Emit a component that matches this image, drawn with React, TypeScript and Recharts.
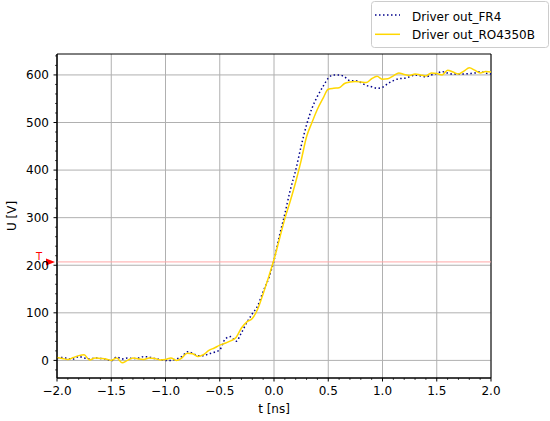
import React from "react";
import {
  LineChart,
  Line,
  XAxis,
  YAxis,
  CartesianGrid,
  ReferenceLine,
  ReferenceDot,
  ReferenceArea,
} from "recharts";

const tValues = [
  -2.0, -1.95, -1.9, -1.85, -1.8, -1.75, -1.7, -1.65, -1.6, -1.55,
  -1.5, -1.45, -1.4, -1.35, -1.3, -1.25, -1.2, -1.15, -1.1, -1.05,
  -1.0, -0.95, -0.9, -0.85, -0.8, -0.75, -0.7, -0.65, -0.6, -0.55,
  -0.5, -0.45, -0.4, -0.35, -0.3, -0.25, -0.2, -0.15, -0.1, -0.05,
  0.0, 0.05, 0.1, 0.15, 0.2, 0.25, 0.3, 0.35, 0.4, 0.45,
  0.5, 0.55, 0.6, 0.65, 0.7, 0.75, 0.8, 0.85, 0.9, 0.95,
  1.0, 1.05, 1.1, 1.15, 1.2, 1.25, 1.3, 1.35, 1.4, 1.45,
  1.5, 1.55, 1.6, 1.65, 1.7, 1.75, 1.8, 1.85, 1.9, 1.95, 2.0,
];

const fr4Values = [
  5, 6, 4, 3, 8, 5, 3, 5, 4, 3,
  -1, 7, 3, 5, 4, 5, 8, 7, 4, 2,
  0, 0, 3, 8, 18, 15, 10, 10, 14, 17,
  22, 45, 50, 40, 58, 80, 98, 115, 145, 172,
  210, 262, 308, 358, 400, 450, 495, 530, 555, 575,
  593, 600, 600, 596, 588, 588, 584, 578, 575, 572,
  574, 582, 588, 592, 593, 596, 600, 598, 596, 600,
  603, 607, 604, 602, 602, 602, 603, 604, 607, 604, 602,
];

const roValues = [
  6, 4, 2, 6, 10, 12, 1, 5, 4, 3,
  0, 5, -5, 0, 5, 3, 2, 5, 4, 1,
  2, 5, 0, 5, 15, 14, 8, 12, 21, 26,
  32, 36, 41, 48, 68, 81, 88, 108, 140, 175,
  212, 255, 298, 335, 375, 420, 470, 500, 528, 550,
  570, 572, 573, 582, 585, 586, 585, 584, 592, 597,
  591, 592, 598, 604, 601, 599, 602, 600, 598, 604,
  603, 600, 610, 606, 602, 608, 615, 610, 604, 607, 606,
];

const seriesNames = ["Driver out_FR4", "Driver out_RO4350B"];
const xMajorTicks = [-2, -1.5, -1, -0.5, 0, 0.5, 1, 1.5, 2];
const yMajorTicks = [0, 100, 200, 300, 400, 500, 600];
const xAllTicks = Array.from({ length: 41 }, (_, i) => Math.round((-2 + i * 0.1) * 10) / 10);
const yAllTicks = Array.from({ length: 34 }, (_, i) => -20 + i * 20);
const yDomain: [number, number] = [-37, 644];
const xDomain: [number, number] = [-2, 2];
const thresholdValue = 207;
const thresholdLabel = "T";
const xLabel = "t [ns]";
const yLabel = "U [V]";

const data = tValues.map((t, i) => ({ t, fr4: fr4Values[i], ro: roValues[i] }));

const FONT = "'DejaVu Sans', sans-serif";
const BLUE = "#00008b";
const GOLD = "#ffd700";

const isIn = (arr: number[], v: number) => arr.some((m) => Math.abs(m - v) < 1e-6);
const fmtX = (v: number) => (v < 0 ? "\u2212" : "") + Math.abs(v).toFixed(1);

const XTick = (props: any) => {
  const { x, y, payload } = props;
  const v = payload.value;
  const major = isIn(xMajorTicks, v);
  return (
    <g>
      <line x1={x} x2={x} y1={y} y2={y + (major ? 3.5 : 2)} stroke="#000" strokeWidth={major ? 1 : 0.7} />
      {major && (
        <text x={x} y={y + 8} dy="0.71em" textAnchor="middle" fontFamily={FONT} fontSize={12} fill="#000">
          {fmtX(v)}
        </text>
      )}
    </g>
  );
};

const YTick = (props: any) => {
  const { x, y, payload } = props;
  const v = payload.value;
  const major = isIn(yMajorTicks, v);
  return (
    <g>
      <line x1={x - (major ? 3.5 : 2)} x2={x} y1={y} y2={y} stroke="#000" strokeWidth={major ? 1 : 0.7} />
      {major && (
        <text x={x - 8} y={y} dy="0.36em" textAnchor="end" fontFamily={FONT} fontSize={12} fill="#000">
          {String(v)}
        </text>
      )}
    </g>
  );
};

const XTitle = (props: any) => {
  const vb = props.viewBox || { x: 57, y: 378, width: 434, height: 43 };
  return (
    <text x={vb.x + vb.width / 2} y={vb.y + 35} textAnchor="middle" fontFamily={FONT} fontSize={12} fill="#000">
      {xLabel}
    </text>
  );
};

const YTitle = (props: any) => {
  const vb = props.viewBox || { x: 0, y: 54, width: 57, height: 324 };
  const cx = vb.x + 16;
  const cy = vb.y + vb.height / 2;
  return (
    <text
      x={cx}
      y={cy}
      transform={`rotate(-90, ${cx}, ${cy})`}
      textAnchor="middle"
      fontFamily={FONT}
      fontSize={12}
      fill="#000"
    >
      {yLabel}
    </text>
  );
};

const MarkerShape = (props: any) => {
  const { cx, cy } = props;
  return (
    <g>
      <polygon points={`${cx - 11},${cy - 3.5} ${cx - 11},${cy + 3.5} ${cx - 2},${cy}`} fill="#ff0000" />
      <text x={cx - 18} y={cy - 1.5} textAnchor="middle" fontFamily={FONT} fontSize={10} fill="#ff0000">
        {thresholdLabel}
      </text>
    </g>
  );
};

const LegendBox = () => (
  <svg width={178} height={47} style={{ display: "block" }}>
    <rect x={0.5} y={0.5} width={177} height={46} rx={3} fill="#fff" fillOpacity={0.85} stroke="#cccccc" />
    <line x1={4} x2={29} y1={14} y2={14} stroke={BLUE} strokeWidth={1.5} strokeDasharray="1.5 2.5" />
    <text x={41} y={19.5} fontFamily={FONT} fontSize={12} fill="#000">
      {seriesNames[0]}
    </text>
    <line x1={4} x2={29} y1={33.3} y2={33.3} stroke={GOLD} strokeWidth={1.5} />
    <text x={41} y={37.5} fontFamily={FONT} fontSize={12} fill="#000">
      {seriesNames[1]}
    </text>
  </svg>
);

export default function App() {
  return (
    <div style={{ position: "absolute", left: 0, top: 0, width: 550, height: 421, background: "#fff" }}>
      <LineChart
        width={550}
        height={421}
        data={data}
        margin={{ top: 54, right: 59, bottom: 0, left: 0 }}
      >
        <CartesianGrid
          stroke="#b0b0b0"
          strokeWidth={1}
          horizontalValues={yMajorTicks}
          verticalValues={xMajorTicks}
        />
        <XAxis
          dataKey="t"
          type="number"
          domain={xDomain}
          ticks={xAllTicks}
          interval={0}
          tickSize={0}
          tickMargin={0}
          tickLine={false}
          tick={<XTick />}
          height={43}
          axisLine={{ stroke: "#000", strokeWidth: 1 }}
          label={<XTitle />}
        />
        <YAxis
          type="number"
          domain={yDomain}
          ticks={yAllTicks}
          interval={0}
          tickSize={0}
          tickMargin={0}
          tickLine={false}
          tick={<YTick />}
          width={57}
          allowDataOverflow
          axisLine={{ stroke: "#000", strokeWidth: 1 }}
          label={<YTitle />}
        />
        <ReferenceLine y={thresholdValue} stroke="#ffa8a8" strokeWidth={1} />
        <Line
          dataKey="fr4"
          name={seriesNames[0]}
          type="monotone"
          stroke={BLUE}
          strokeWidth={1.5}
          strokeDasharray="1.5 2.5"
          dot={false}
          isAnimationActive={false}
        />
        <Line
          dataKey="ro"
          name={seriesNames[1]}
          type="monotone"
          stroke={GOLD}
          strokeWidth={1.5}
          dot={false}
          isAnimationActive={false}
        />
        <ReferenceArea
          x1={xDomain[0]}
          x2={xDomain[1]}
          y1={yDomain[0]}
          y2={yDomain[1]}
          fill="none"
          fillOpacity={0}
          stroke="#000"
          strokeWidth={1}
          strokeOpacity={1}
        />
        <ReferenceDot
          x={xDomain[0]}
          y={thresholdValue}
          ifOverflow="visible"
          shape={<MarkerShape />}
        />
      </LineChart>
      <div style={{ position: "absolute", left: 371, top: 1 }}>
        <LegendBox />
      </div>
    </div>
  );
}
